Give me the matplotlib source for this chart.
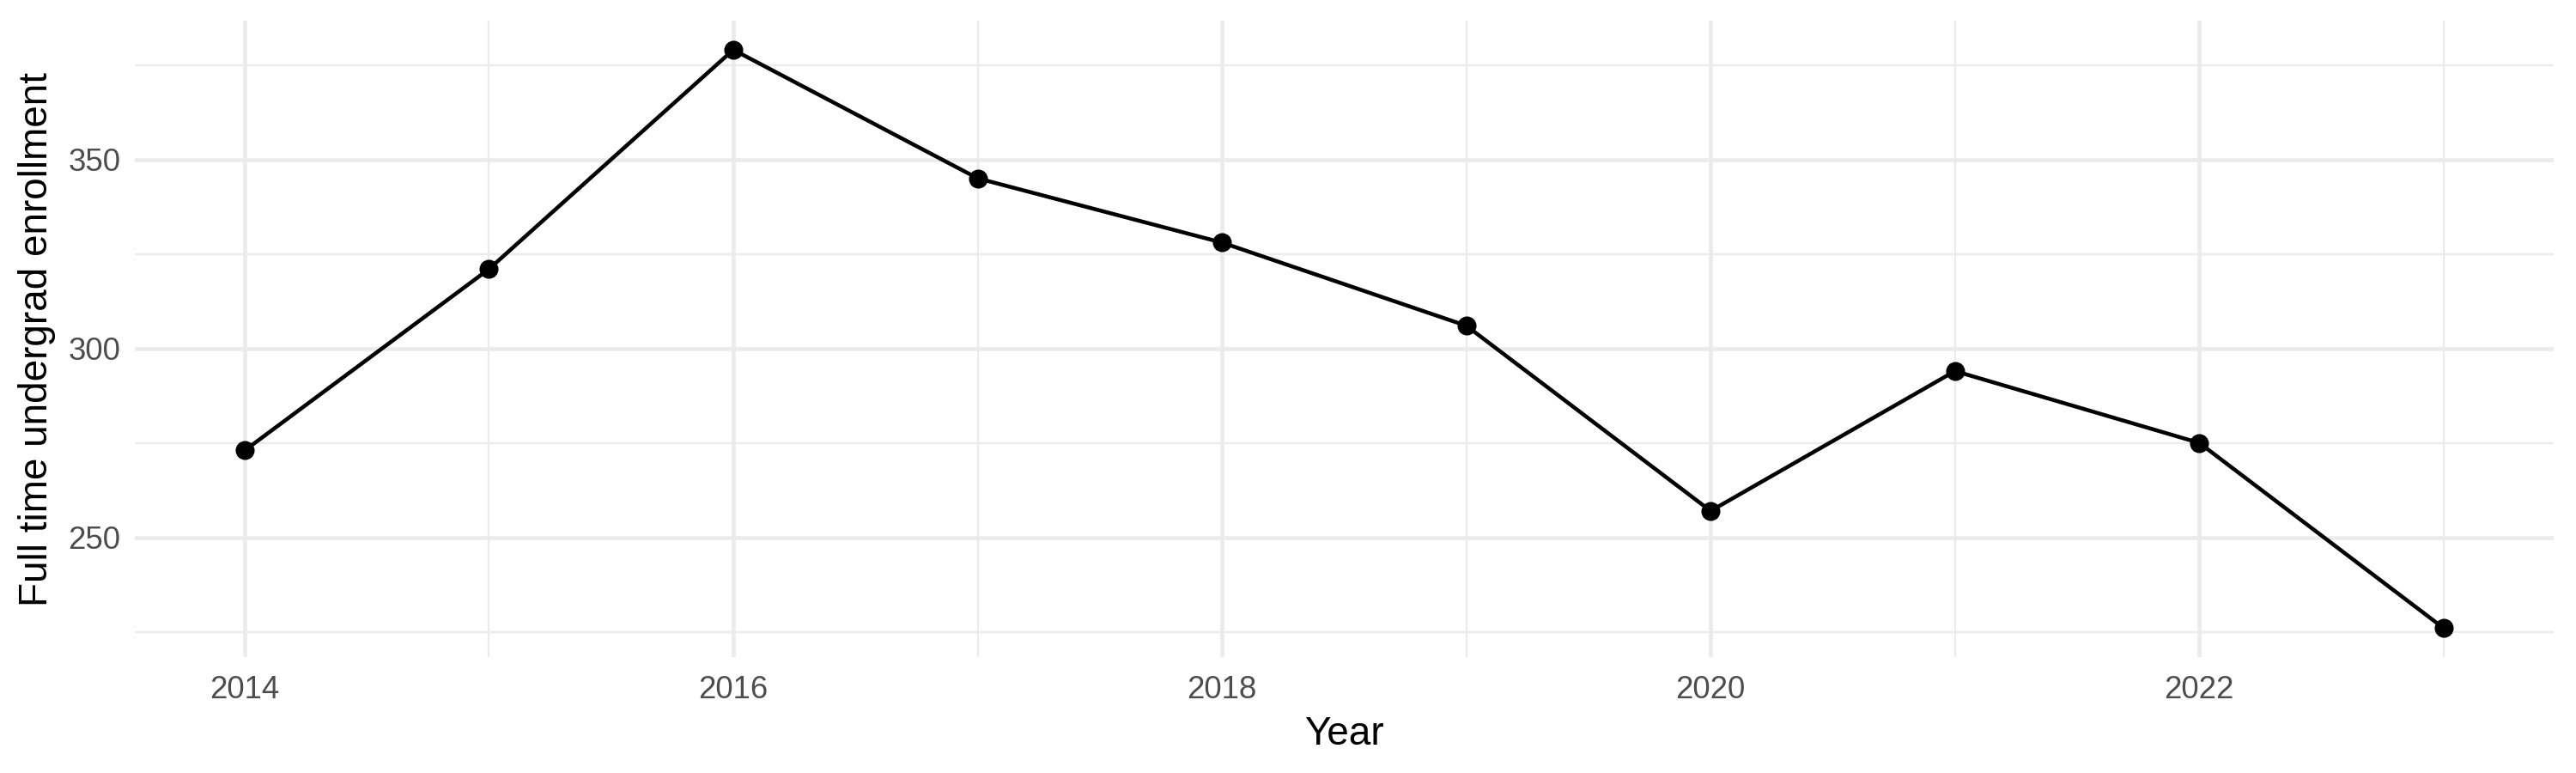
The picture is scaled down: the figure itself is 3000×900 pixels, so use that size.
import matplotlib
matplotlib.use("Agg")
import matplotlib.pyplot as plt
from matplotlib.ticker import FixedLocator

years = [2014, 2015, 2016, 2017, 2018, 2019, 2020, 2021, 2022, 2023]
enrollment = [273, 321, 379, 345, 328, 306, 257, 294, 275, 226]
x_major = [2014, 2016, 2018, 2020, 2022]
x_minor = [2015, 2017, 2019, 2021, 2023]
y_major = [250, 300, 350]
y_minor = [225, 275, 325, 375]
x_title = "Year"
y_title = "Full time undergrad enrollment"

plt.rcParams['font.family'] = ['Liberation Sans', 'DejaVu Sans']

fig = plt.figure(figsize=(10, 3), dpi=300)
ax = fig.add_axes([0.0523, 0.150, 0.939, 0.823])

ax.plot(years, enrollment, color='black', linewidth=1.1, marker='o',
        markersize=4.3, zorder=3)

xr = max(years) - min(years)
ax.set_xlim(min(years) - 0.05 * xr, max(years) + 0.05 * xr)
yr = max(enrollment) - min(enrollment)
ax.set_ylim(min(enrollment) - 0.05 * yr, max(enrollment) + 0.05 * yr)

ax.xaxis.set_major_locator(FixedLocator(x_major))
ax.xaxis.set_minor_locator(FixedLocator(x_minor))
ax.yaxis.set_major_locator(FixedLocator(y_major))
ax.yaxis.set_minor_locator(FixedLocator(y_minor))
ax.set_xticklabels([str(v) for v in x_major])
ax.set_yticklabels([str(v) for v in y_major])

ax.grid(which='major', color='#EBEBEB', linewidth=1.1)
ax.grid(which='minor', color='#EBEBEB', linewidth=0.55)
ax.set_axisbelow(True)
for s in ax.spines.values():
    s.set_visible(False)
ax.tick_params(which='both', length=0)
ax.tick_params(axis='x', labelsize=8.8, labelcolor='#4D4D4D', pad=5)
ax.tick_params(axis='y', labelsize=8.8, labelcolor='#4D4D4D', pad=4)

ax.set_xlabel(x_title, fontsize=11, color='black', labelpad=3)
ax.set_ylabel(y_title, fontsize=11, color='black', labelpad=3.5)

fig.savefig("out.png", dpi=300, facecolor='white')
